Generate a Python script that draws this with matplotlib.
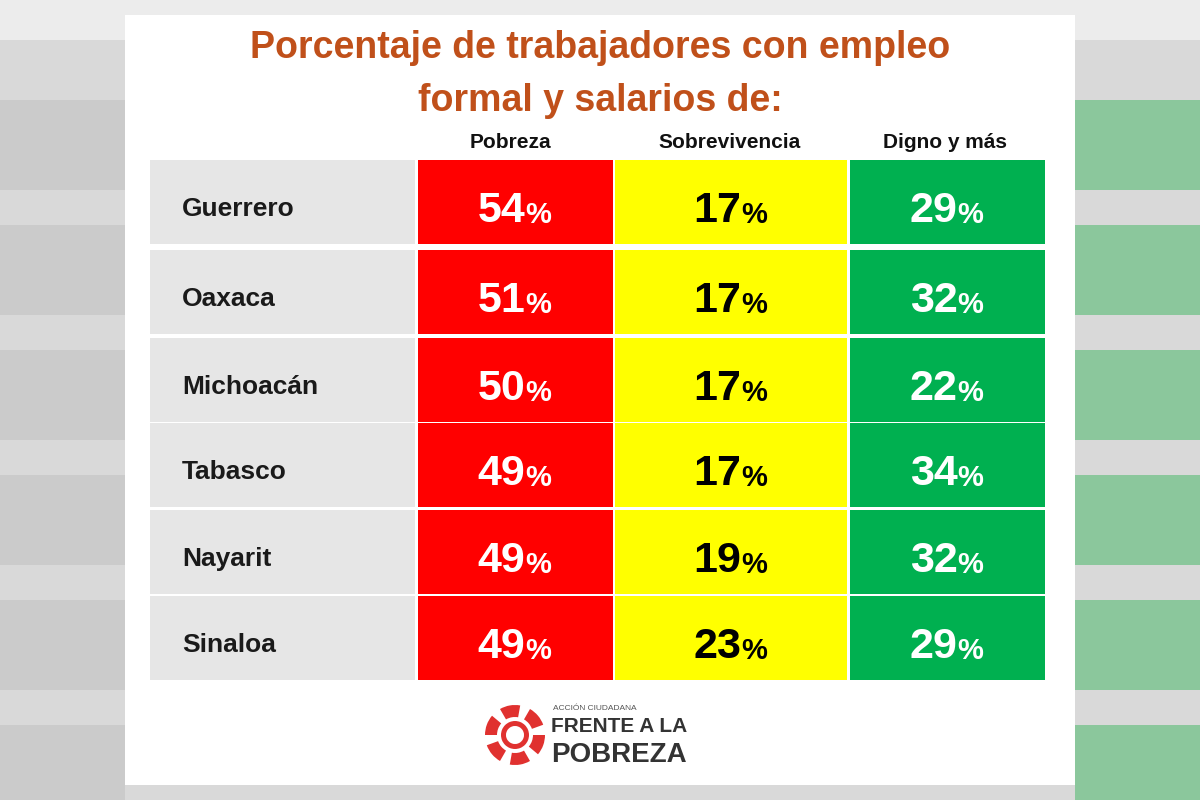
import matplotlib.pyplot as plt
from matplotlib.patches import Rectangle, Wedge

plt.rcParams['font.family'] = ['Liberation Sans', 'DejaVu Sans']

states = ['Guerrero', 'Oaxaca', 'Michoacán', 'Tabasco', 'Nayarit', 'Sinaloa']
pobreza = [54, 51, 50, 49, 49, 49]
sobrevivencia = [17, 17, 17, 17, 19, 23]
digno = [29, 32, 22, 34, 32, 29]
headers = ['Pobreza', 'Sobrevivencia', 'Digno y más']

fig = plt.figure(figsize=(12, 8), dpi=100)
fig.patch.set_facecolor('#d9d9d9')
ax = fig.add_axes([0, 0, 1, 1])
ax.set_xlim(0, 1200)
ax.set_ylim(800, 0)
ax.axis('off')

# blurred background hints
for y in range(100, 800, 125):
    ax.add_patch(Rectangle((0, y), 125, 90, color='#c8c8c8', alpha=0.8, lw=0))
    ax.add_patch(Rectangle((1075, y), 125, 90, color='#4cb96a', alpha=0.55, lw=0))
ax.add_patch(Rectangle((0, 0), 1200, 40, color='#ececec', lw=0))

# white card
ax.add_patch(Rectangle((125, 15), 950, 770, color='white', lw=0))

ax.text(600, 48, 'Porcentaje de trabajadores con empleo', ha='center', va='center',
        fontsize=27, fontweight='bold', color='#c0501a')
ax.text(600, 101, 'formal y salarios de:', ha='center', va='center',
        fontsize=27, fontweight='bold', color='#c0501a')

cols = [(150, 265, '#e6e6e6'), (418, 195, '#ff0000'), (615, 232, '#ffff00'), (850, 195, '#00b050')]
hx = [510, 730, 945]
for h, x in zip(headers, hx):
    ax.text(x, 143, h, ha='center', va='center', fontsize=15, fontweight='bold', color='#111111')

row_top = [160, 250, 338, 423, 510, 596]
row_h = 84
for i, name in enumerate(states):
    y0 = row_top[i]
    yc = y0 + row_h / 2
    for x0, w, c in cols:
        ax.add_patch(Rectangle((x0, y0), w, row_h, color=c, lw=0))
    ax.text(182, yc + 7, name, ha='left', va='center', fontsize=19, fontweight='bold', color='#1a1a1a')
    for (x0, w, c), v, tc in zip(cols[1:], [pobreza[i], sobrevivencia[i], digno[i]],
                                ['white', 'black', 'white']):
        cx = x0 + w / 2 + 10
        ax.text(cx, yc + 9, str(v), ha='right', va='center', fontsize=31,
                fontweight='bold', color=tc)
        ax.text(cx, yc + 13, '%', ha='left', va='center', fontsize=21,
                fontweight='bold', color=tc)

# logo
lx, ly = 515, 735
for k in range(6):
    a = k * 60
    ax.add_patch(Wedge((lx, ly), 30, a, a + 40, width=12, color='#e0312f', lw=0))
ax.add_patch(Wedge((lx, ly), 14, 0, 360, width=5, color='#e0312f', lw=0))
ax.text(553, 708, 'ACCIÓN CIUDADANA', ha='left', va='center', fontsize=6, color='#555555')
ax.text(551, 727, 'FRENTE A LA', ha='left', va='center', fontsize=15, fontweight='bold', color='#333333')
ax.text(551, 755, 'POBREZA', ha='left', va='center', fontsize=20, fontweight='bold', color='#333333')

fig.savefig('out.png', dpi=100)
